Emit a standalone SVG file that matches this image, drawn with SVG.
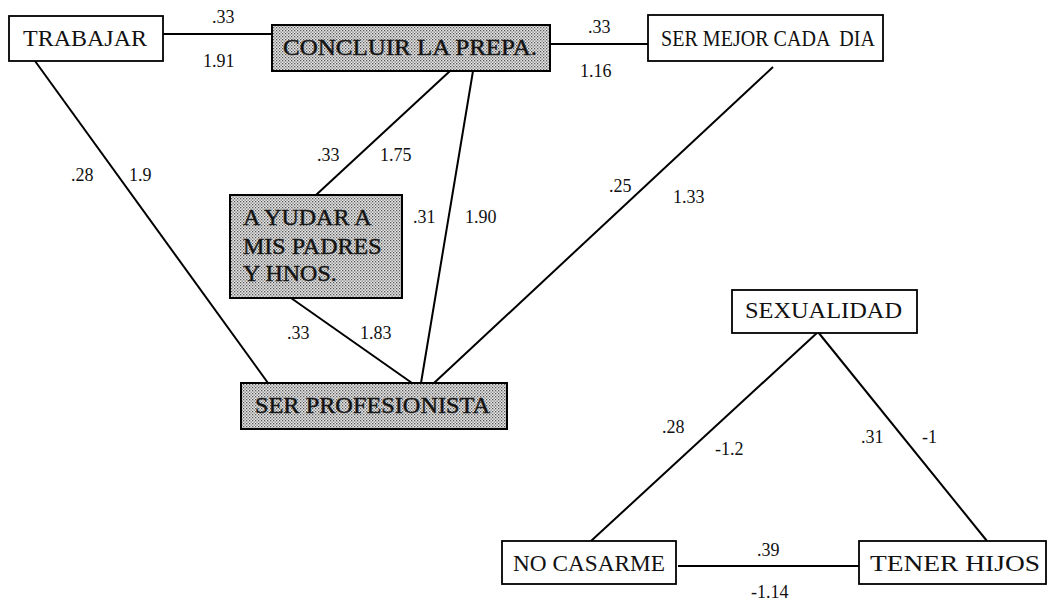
<svg xmlns="http://www.w3.org/2000/svg" width="1054" height="604" viewBox="0 0 1054 604">
<defs>
<pattern id="dots" width="3" height="3" patternUnits="userSpaceOnUse">
<rect width="3" height="3" fill="#e6e6e6"/>
<rect x="0" y="0" width="1.3" height="1.3" fill="#555"/>
<rect x="1.5" y="1.5" width="1.3" height="1.3" fill="#777"/>
</pattern>
</defs>
<style>
.box{fill:#fff;stroke:#000;stroke-width:1.8}
.sh{fill:url(#dots);stroke:#000;stroke-width:2}
text{font-family:'Liberation Serif','Times New Roman',serif}
.t{font-size:24px;fill:#111}
.ts{font-size:24px;fill:#111;stroke:#222;stroke-width:0.5}
.n{font-size:18px;fill:#111}
.c{stroke:#000;stroke-width:2;fill:none}
</style>
<rect width="1054" height="604" fill="#fff"/>
<g id="connectors">
<line class="c" x1="163" y1="34" x2="272" y2="34"/>
<line class="c" x1="550" y1="44" x2="648" y2="44"/>
<line class="c" x1="35" y1="61" x2="268" y2="383"/>
<line class="c" x1="450" y1="71" x2="316" y2="195"/>
<line class="c" x1="473" y1="71" x2="421" y2="383"/>
<line class="c" x1="291" y1="298" x2="412" y2="383"/>
<line class="c" x1="773" y1="67" x2="434" y2="383"/>
<line class="c" x1="818" y1="332" x2="591" y2="541"/>
<line class="c" x1="818" y1="332" x2="987" y2="541"/>
<line class="c" x1="678" y1="566" x2="859" y2="566"/>
</g>
<g id="labels">
<text class="n" x="212" y="23">.33</text>
<text class="n" x="203" y="67">1.91</text>
<text class="n" x="588" y="33">.33</text>
<text class="n" x="580" y="77">1.16</text>
<text class="n" x="71" y="181">.28</text>
<text class="n" x="129" y="181">1.9</text>
<text class="n" x="317" y="161">.33</text>
<text class="n" x="380" y="161">1.75</text>
<text class="n" x="413" y="223">.31</text>
<text class="n" x="465" y="223">1.90</text>
<text class="n" x="609" y="192">.25</text>
<text class="n" x="673" y="203">1.33</text>
<text class="n" x="287" y="339">.33</text>
<text class="n" x="360" y="339">1.83</text>
<text class="n" x="662" y="433">.28</text>
<text class="n" x="715" y="455">-1.2</text>
<text class="n" x="861" y="443">.31</text>
<text class="n" x="922" y="443">-1</text>
<text class="n" x="757" y="556">.39</text>
<text class="n" x="751" y="598">-1.14</text>
</g>
<g id="trabajar">
<rect class="box" x="9" y="16" width="154" height="45"/>
<text class="t" x="23" y="46">TRABAJAR</text>
</g>
<g id="concluir">
<rect class="sh" x="272" y="25" width="278" height="46"/>
<text class="ts" x="283" y="55" textLength="254" lengthAdjust="spacingAndGlyphs">CONCLUIR LA PREPA.</text>
</g>
<g id="ser-mejor">
<rect class="box" x="648" y="15" width="235" height="46"/>
<text class="t" x="661" y="46" style="white-space:pre;font-size:23px" textLength="214" lengthAdjust="spacingAndGlyphs">SER MEJOR CADA  DIA</text>
</g>
<g id="ayudar">
<rect class="sh" x="230" y="195" width="172" height="103"/>
<text class="ts" x="243" y="225">A YUDAR A</text>
<text class="ts" x="243" y="254">MIS PADRES</text>
<text class="ts" x="243" y="281">Y HNOS.</text>
</g>
<g id="ser-profesionista">
<rect class="sh" x="241" y="383" width="266" height="46"/>
<text class="ts" x="255" y="413" textLength="235" lengthAdjust="spacingAndGlyphs">SER PROFESIONISTA</text>
</g>
<g id="sexualidad">
<rect class="box" x="732" y="290" width="185" height="43"/>
<text class="t" x="745" y="318" textLength="157" lengthAdjust="spacingAndGlyphs">SEXUALIDAD</text>
</g>
<g id="no-casarme">
<rect class="box" x="502" y="541" width="174" height="43"/>
<text class="t" x="513" y="571" textLength="152" lengthAdjust="spacingAndGlyphs">NO CASARME</text>
</g>
<g id="tener-hijos">
<rect class="box" x="859" y="541" width="187" height="43"/>
<text class="t" x="870" y="571" textLength="170" lengthAdjust="spacingAndGlyphs">TENER HIJOS</text>
</g>
</svg>
